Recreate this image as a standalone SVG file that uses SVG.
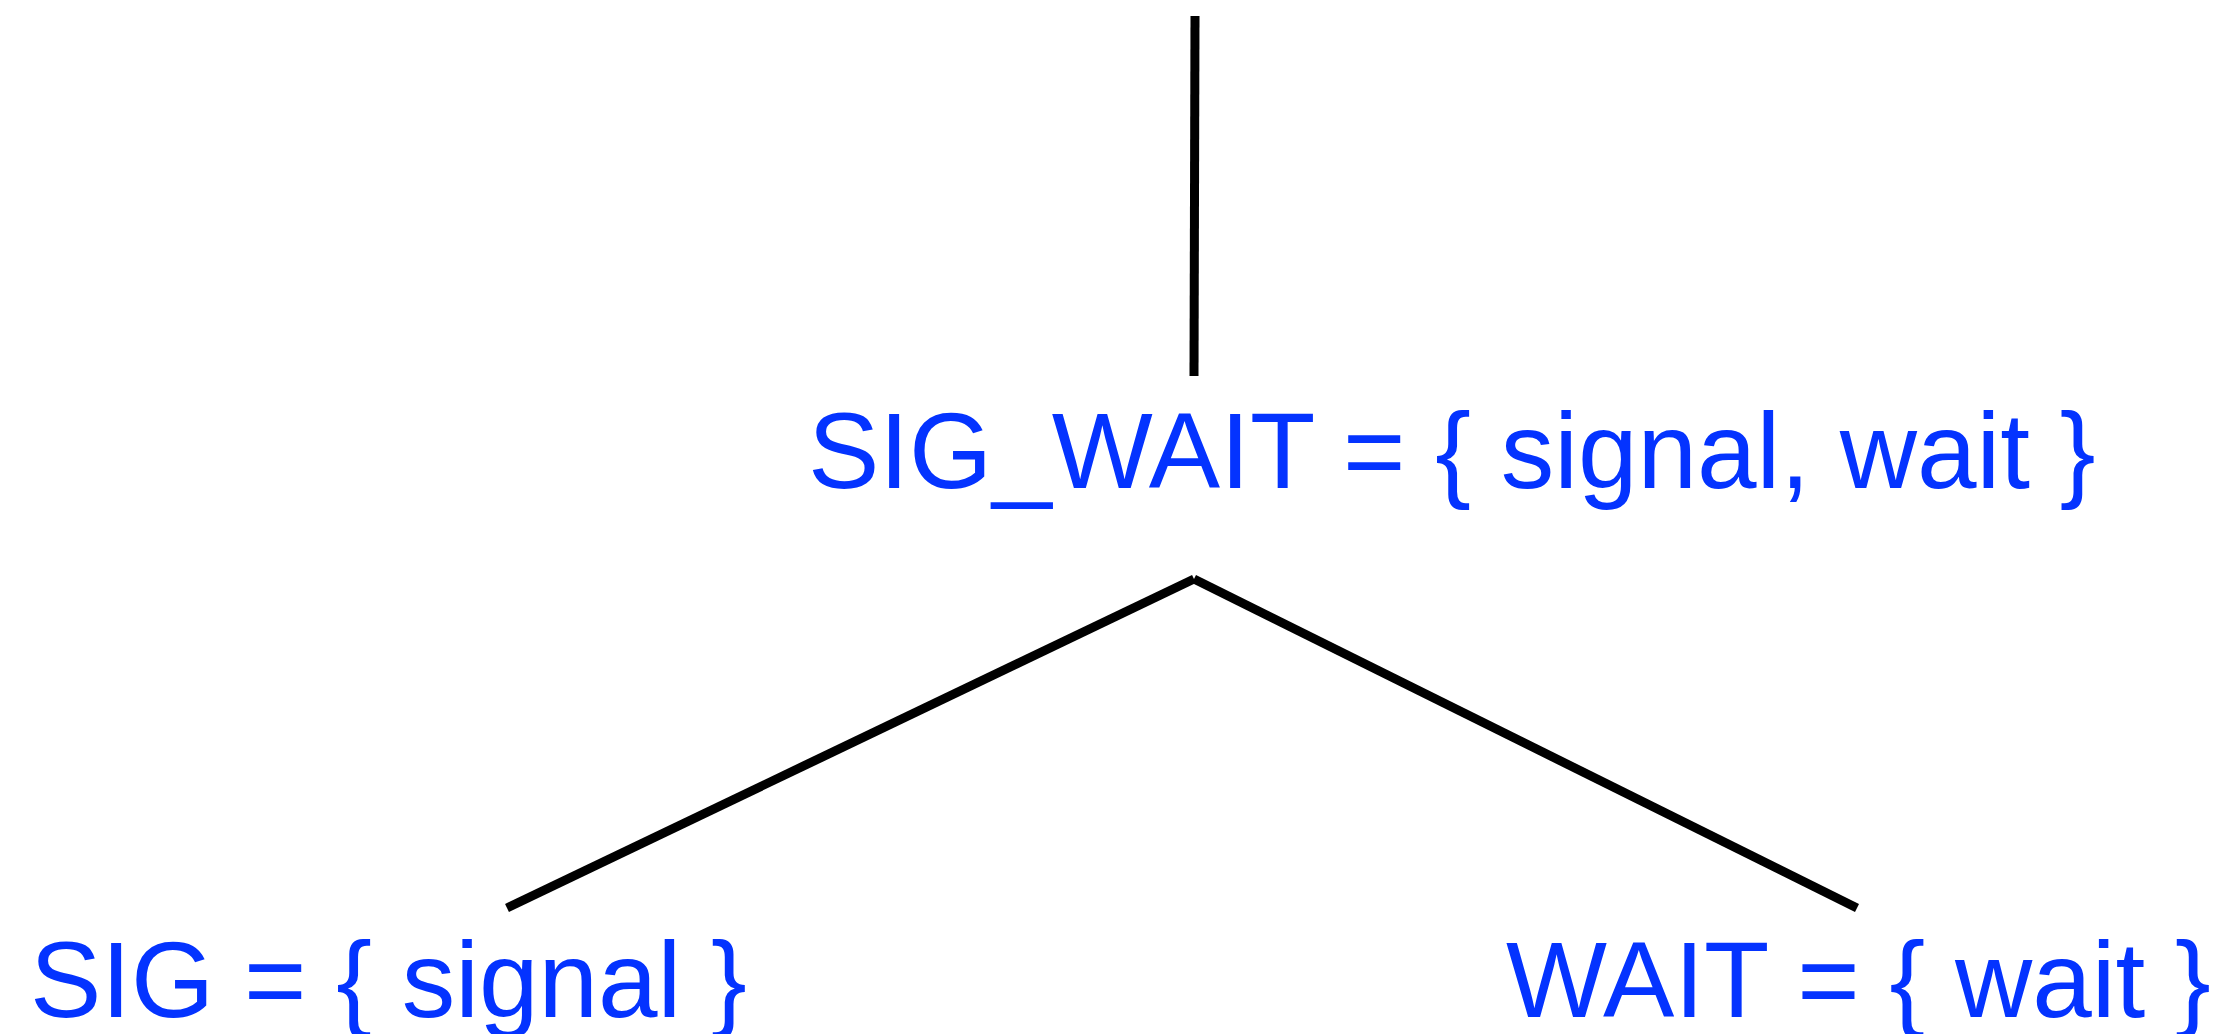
<svg xmlns="http://www.w3.org/2000/svg" width="2223" height="1034" viewBox="0 0 2223 1034">
<style>
.lbl{font-family:"Liberation Sans",Arial,Helvetica,sans-serif;font-size:107px;fill:#0433FF}
.edge{stroke:#000;stroke-width:9;fill:none;stroke-linecap:butt}
</style>
<rect width="2223" height="1034" fill="#fff"/>
<g id="connectors">
<line class="edge" x1="1195" y1="16" x2="1194" y2="376"/>
<line class="edge" x1="1194" y1="579" x2="507" y2="908"/>
<line class="edge" x1="1194" y1="579" x2="1857" y2="908"/>
</g>
<g id="node-sig-wait"><text class="lbl" x="808" y="488">SIG_WAIT = { signal, wait }</text></g>
<g id="node-sig"><text class="lbl" x="30" y="1017">SIG = { signal }</text></g>
<g id="node-wait"><text class="lbl" x="1506" y="1017">WAIT = { wait }</text></g>
</svg>
